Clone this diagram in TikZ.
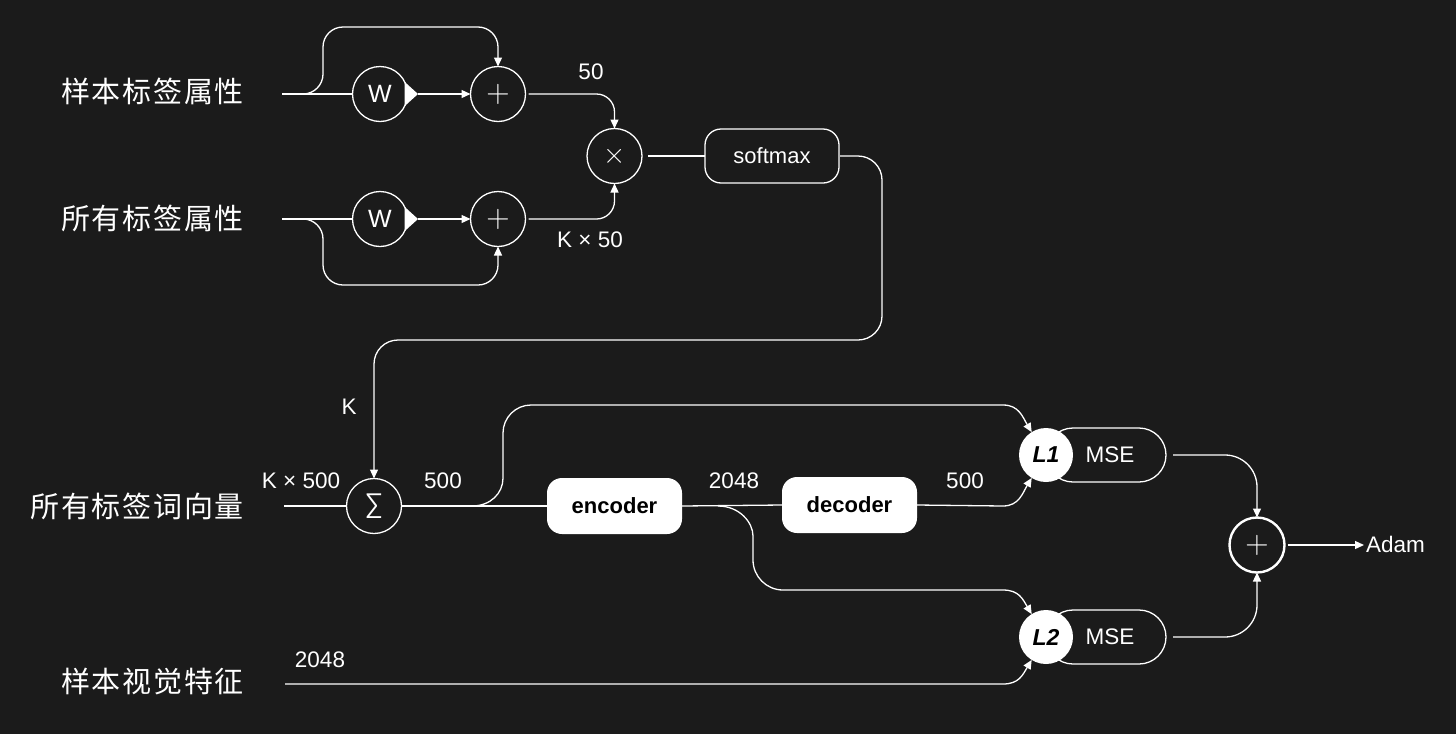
\documentclass[tikz,border=0pt]{standalone}
\usepackage{fontspec}
\setmainfont{Liberation Sans}
\newfontfamily\cjk{Noto Sans CJK SC}[LetterSpace=6]
\newfontfamily\lightf{Fira Sans Light}
\usetikzlibrary{arrows.meta,calc}
\definecolor{bg}{HTML}{1B1B1B}
\begin{document}
\begin{tikzpicture}[x=1pt,y=-1pt,
  ln/.style={draw=white,line width=1.3pt},
  arr/.style={ln,-{Triangle[length=9pt,width=8pt]}},
  circ/.style={circle,draw=white,line width=1.3pt,minimum size=55pt,inner sep=0pt,outer sep=0pt,text=white},
  sym/.style={font=\fontsize{24.88}{24.88}\selectfont},
  lab/.style={text=white,inner sep=0pt,font=\fontsize{22.5}{27}\selectfont},
  cjklab/.style={text=white,inner sep=0pt,anchor=east,font=\cjk\fontsize{29}{32}\selectfont},
  obox/.style={draw=white,line width=1.3pt,rounded corners=16pt,minimum width=134pt,minimum height=54pt,text=white,font=\fontsize{22}{26}\selectfont,outer sep=0pt},
  wbox/.style={fill=white,rounded corners=15pt,minimum width=135pt,minimum height=56pt,text=black,font=\bfseries\fontsize{22}{26}\selectfont,outer sep=0pt},
  pill/.style={draw=white,line width=1.3pt,rounded corners=27pt,minimum width=120pt,minimum height=54pt,text=white,font=\fontsize{22.5}{26}\selectfont,outer sep=0pt},
  lcirc/.style={circle,fill=white,minimum size=54pt,inner sep=0pt,outer sep=0pt,text=black,font=\bfseries\itshape\fontsize{23}{26}\selectfont}
]
\fill[bg] (0,0) rectangle (1456,734);
\useasboundingbox (0,0) rectangle (1456,734);

% left labels
\node[cjklab] (lab1) at (244,91) {样本标签属性};
\node[cjklab] (lab2) at (244,218) {所有标签属性};
\node[cjklab] (lab3) at (244,506) {所有标签词向量};
\node[cjklab] (lab4) at (244,681) {样本视觉特征};

\coordinate (in1) at (282,94);
\coordinate (in2) at (282,219);
\coordinate (in3) at (284,506);
\coordinate (in4) at (285,684);

% top part
\node[circ] (w1) at (380,94) {\fontsize{25}{26}\selectfont W};
\node[circ] (w2) at (380,219) {\fontsize{25}{26}\selectfont W};
\fill[white] (w1.26) -- ([xshift=10.5pt]w1.east) -- (w1.-26) -- cycle;
\fill[white] (w2.26) -- ([xshift=10.5pt]w2.east) -- (w2.-26) -- cycle;
\node[circ,sym] (p1) at (498,94) {\scalebox{1.3}{$+$}};
\node[circ,sym] (p2) at (498,219) {\scalebox{1.3}{$+$}};
\node[circ,sym] (mul) at (614.5,156) {\scalebox{1.15}{$\times$}};
\node[obox] (sm) at (772,156) {softmax};

\node[lab] (t50) at (591,72) {50};
\node[lab] (tk50) at (590,240) {K × 50};

\coordinate (t1) at (323,27);
\coordinate (b1) at (323,285);

\draw[ln] (in1) -- (w1.west);
\draw[ln] (in2) -- (w2.west);
\draw[arr,rounded corners=20pt] (in1) -| (t1) -| (p1.north);
\draw[arr,rounded corners=20pt] (in2) -| (b1) -| (p2.south);
\draw[arr] ([xshift=10.5pt]w1.east) -- (p1.west);
\draw[arr] ([xshift=10.5pt]w2.east) -- (p2.west);
\draw[arr,rounded corners=18pt,shorten <=3pt] (p1.east) -| (mul.north);
\draw[arr,rounded corners=18pt,shorten <=3pt] (p2.east) -| (mul.south);
\draw[ln,shorten <=6pt] (mul.east) -- (sm.west);

% softmax to sigma
\node[circ] (sig) at (374,506) {\lightf\fontsize{36}{36}\selectfont Σ};
\coordinate (s1) at (882,340);
\draw[arr,rounded corners=24pt,shorten <=1pt] (sm.east) -| (s1) -| (sig.north);

% middle part
\node[lab] (tK) at (349,407) {K};
\node[lab] (tk500) at (301,481) {K × 500};
\node[lab] (t500a) at (443,481) {500};
\node[lab] (t2048a) at (734,481) {2048};
\node[lab] (t500b) at (965,481) {500};
\node[lab] (t2048b) at (320,660) {2048};

\node[wbox] (enc) at (614.5,506) {encoder};
\node[wbox] (dec) at (849.5,505) {decoder};

\node[pill] (mse1) at (1106,455) {\hspace{8pt}MSE};
\node[lcirc] (l1) at (1046,455) {L1};
\node[pill] (mse2) at (1106,637) {\hspace{8pt}MSE};
\node[lcirc] (l2) at (1046,637) {L2};

\node[circ,sym,line width=2.4pt] (sum) at (1257,545) {\scalebox{1.3}{$+$}};
\node[text=white,anchor=west,inner sep=2pt,outer sep=0pt,font=\fontsize{22.5}{27}\selectfont] (adam) at (1364,544) {Adam};

\draw[ln] (in3) -- (sig.west);
\draw[ln] (sig.east) -- (enc.west);
\draw[ln] (enc.east) -- (dec.west);

% branch from sigma output to L1
\coordinate (ba) at (472,506);
\coordinate (ba3) at (1003,405);
\draw[arr] (ba) .. controls (490.4,506) and (503,493.4) .. (503,478)
  -- (503,433) .. controls (503,417.6) and (515.6,405) .. (531,405)
  -- (ba3) .. controls +(16,0) and +(-9,-15) .. (l1.122);

% branch from encoder output to L2
\coordinate (bb) at (718,506);
\coordinate (bb3) at (1003,590);
\draw[arr] (bb) .. controls (739.5,506) and (753,522.5) .. (753,536)
  -- (753,560) .. controls (753,576.5) and (766.5,590) .. (783,590)
  -- (bb3) .. controls +(16,0) and +(-9,-15) .. (l2.122);

\coordinate (dd) at (1003,506);
\draw[arr] (dec.east) -- (dd) .. controls +(16,0) and +(-9,15) .. (l1.-122);
\coordinate (vv) at (1003,684);
\draw[arr] (in4) -- (vv) .. controls +(16,0) and +(-9,15) .. (l2.-122);

\draw[arr,rounded corners=32pt,shorten <=7pt] (mse1.east) -| (sum.north);
\draw[arr,rounded corners=32pt,shorten <=7pt] (mse2.east) -| (sum.south);
\draw[arr,shorten <=3pt] (sum.east) -- (sum.east -| adam.west);
\end{tikzpicture}
\end{document}
